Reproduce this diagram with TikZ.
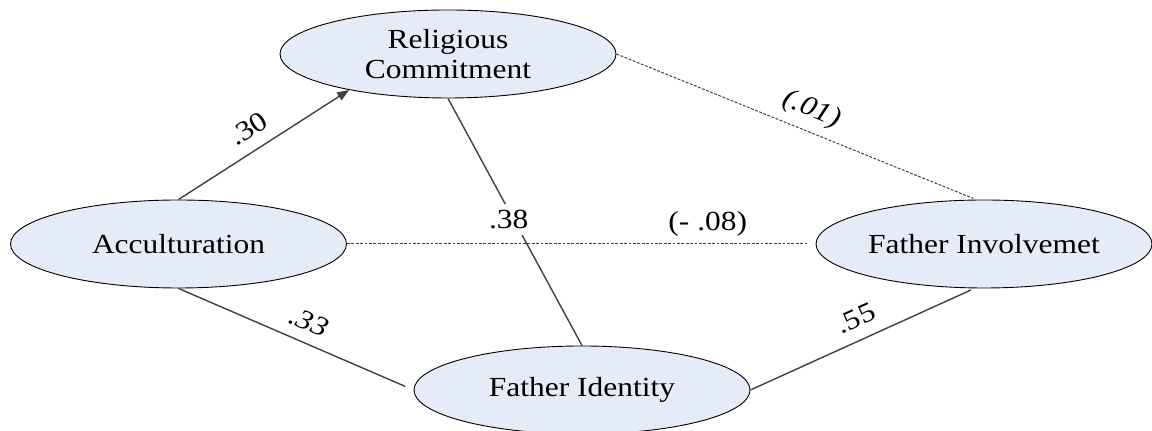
\documentclass[tikz,border=0pt]{standalone}
\usepackage{fontspec}
\setmainfont{Liberation Serif}[FakeStretch=1.14]
\usepackage{tikz}
\usetikzlibrary{shapes,arrows.meta}
\definecolor{ovalfill}{HTML}{E6ECF7}
\definecolor{effgray}{HTML}{404040}

\begin{document}
\begin{tikzpicture}[x=0.5pt,y=-0.5pt,
            >={Triangle[length=6pt,width=4.5pt]},
            every node/.style={font=\fontsize{13.8}{15}\selectfont},
            latent/.style={ellipse,draw=black,line width=0.45pt,fill=ovalfill,
                minimum width=168pt,minimum height=44pt,inner sep=0pt,align=center},
            eff/.style={draw=effgray,line width=0.7pt},
            noeff/.style={draw=effgray,line width=0.5pt,dash pattern=on 1.4pt off 0.8pt},
            ]
\useasboundingbox (0,0) rectangle (1152,431);
\node[latent] (rel) at (448,54) {Religious\\Commitment};
\node[latent] (acc) at (178.5,244) {Acculturation};
\node[latent] (finv) at (984,244) {Father Involvemet};
\node[latent] (fid) at (582,390) {Father Identity};
\draw[eff,->] (acc.north) -- (rel.200) node [pos=0.48,above=2.5pt,sloped] {.30};
\draw[eff] (rel.south) -- (fid.north) node [pos=0.49,fill=white,inner sep=3pt,xshift=-2.5pt] {.38};
\draw[eff,shorten >=4.5pt] (acc.south) -- (fid.west) node [pos=0.52,above=2.25pt,sloped] {\itshape .33};
\draw[eff,shorten >=2pt] (fid.east) -- (finv.258) node [pos=0.51,above=2.5pt,sloped] {.55};
\draw[noeff,shorten >=1.5pt] (rel.east) -- (finv.100) node [pos=0.52,above=1pt,sloped] {\itshape (.01)};
\draw[noeff,shorten >=4.5pt] (acc.east) -- (finv.west) node [pos=0.77,above] {(- .08)};
\end{tikzpicture}
\end{document}
